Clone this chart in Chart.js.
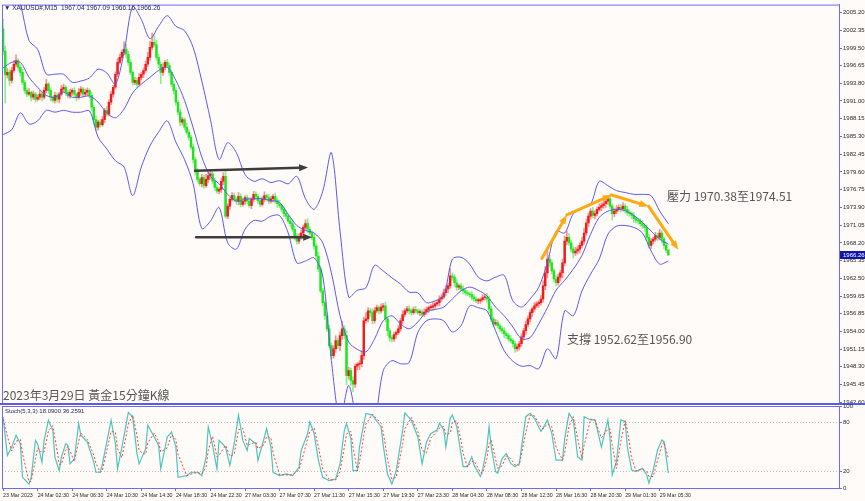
<!DOCTYPE html>
<html>
<head>
<meta charset="utf-8">
<script src="https://cdn.jsdelivr.net/npm/chart.js@4.4.1/dist/chart.umd.min.js"></script>
<style>
  body { margin:0; width:865px; height:501px; overflow:hidden; position:relative; background:#fffbf9; }
  canvas { position:absolute; left:0; top:0; }
  .t { position:absolute; white-space:nowrap; line-height:1; z-index:5; }
  #hdr { left:4px; top:4px; font:6.5px 'Liberation Sans', sans-serif; color:#26266a; }
  #stl { left:5px; top:408px; font:6px 'Liberation Sans', sans-serif; color:#26266a; }
  .cn { font-family:'Noto Sans CJK TC', sans-serif; font-size:12px; color:#555; }
</style>
</head>
<body>
<canvas id="main" width="865" height="501"></canvas>
<canvas id="stoch" width="865" height="501"></canvas>
<div class="t" id="hdr">&#9660; XAUUSD#,M15&nbsp; 1967.04 1967.09 1966.16 1966.26</div>
<div class="t" id="stl">Stoch(5,3,3) 18.0900 36.2591</div>
<div class="t cn" style="left:3px;top:389px;">2023年3月29日 黃金15分鐘K線</div>
<div class="t cn" style="left:667px;top:190px;">壓力 1970.38至1974.51</div>
<div class="t cn" style="left:567px;top:333px;">支撐 1952.62至1956.90</div>
<script>
// XAUUSD M15, 23 Mar 22:30 -> 29 Mar 06:30 (309 bars)
const firstOpen = 2002.6;
const closes = [
  1999.0,1995.2,1995.6,1994.3,1995.9,1996.9,1997.5,1996.4,1995.6,1994.0,
  1992.7,1992.1,1992.4,1991.6,1992.1,1991.3,1991.6,1992.1,1991.6,1992.7,
  1993.7,1992.7,1991.6,1991.1,1991.9,1991.3,1992.1,1992.9,1993.2,1992.4,
  1991.8,1992.4,1992.7,1992.1,1991.6,1992.4,1992.9,1992.1,1992.4,1992.7,
  1991.9,1990.0,1988.0,1986.8,1987.6,1987.2,1988.0,1989.5,1988.9,1990.8,
  1992.1,1993.2,1995.3,1997.2,1998.0,1998.8,1999.3,1998.5,1997.2,1995.6,
  1994.0,1994.3,1993.7,1994.8,1995.3,1995.9,1996.9,1998.0,1999.6,2000.4,
  2000.0,1998.0,1996.9,1995.6,1996.4,1997.2,1996.7,1995.6,1993.7,1992.7,
  1990.8,1989.2,1987.6,1988.0,1986.8,1986.0,1985.2,1983.6,1981.6,1979.6,
  1978.4,1977.7,1978.7,1977.4,1978.4,1979.0,1979.3,1978.1,1977.1,1976.5,
  1976.8,1978.1,1978.9,1972.5,1974.1,1975.2,1975.8,1975.2,1974.9,1975.7,
  1974.4,1974.9,1975.5,1974.9,1974.2,1975.2,1976.0,1975.7,1975.0,1974.4,
  1975.2,1975.8,1975.5,1974.9,1975.3,1975.7,1975.0,1974.5,1974.2,1973.6,
  1972.9,1972.5,1971.7,1971.3,1970.4,1969.3,1968.5,1969.1,1969.8,1970.7,
  1971.3,1970.4,1969.8,1969.1,1967.7,1966.1,1964.0,1960.5,1958.6,1956.5,
  1954.4,1951.7,1950.1,1951.2,1952.5,1951.7,1953.3,1954.4,1953.3,1946.9,
  1947.7,1946.1,1945.5,1948.4,1948.7,1948.8,1950.1,1955.7,1956.0,1957.3,
  1957.0,1955.7,1957.3,1957.8,1957.3,1957.9,1958.1,1956.0,1954.1,1953.0,
  1952.8,1953.5,1953.8,1954.4,1955.7,1956.7,1957.3,1957.6,1957.3,1957.0,
  1957.5,1957.3,1957.0,1957.1,1956.7,1957.1,1957.5,1957.8,1957.9,1958.1,
  1958.4,1958.6,1959.2,1959.5,1960.2,1960.8,1961.3,1962.9,1962.7,1961.8,
  1961.1,1961.3,1960.8,1960.5,1960.2,1960.0,1959.9,1959.5,1959.2,1958.9,
  1958.9,1959.1,1959.4,1959.5,1959.2,1957.6,1956.0,1955.2,1955.4,1954.9,
  1954.4,1954.1,1953.6,1953.3,1952.8,1952.5,1952.0,1951.2,1951.5,1952.0,
  1953.1,1954.1,1955.1,1956.0,1957.0,1957.6,1958.1,1958.4,1958.6,1959.2,
  1961.3,1963.4,1965.6,1965.0,1963.7,1962.4,1961.8,1962.7,1963.4,1965.0,
  1968.5,1969.1,1968.2,1967.2,1966.6,1966.9,1967.2,1967.8,1968.5,1969.8,
  1971.4,1972.5,1973.3,1972.6,1972.9,1973.6,1973.9,1974.2,1974.5,1974.9,
  1975.3,1974.1,1972.9,1973.3,1973.6,1973.9,1973.7,1974.1,1973.6,1973.1,
  1972.9,1972.6,1972.1,1971.8,1971.7,1971.3,1971.0,1970.7,1969.1,1967.8,
  1968.5,1968.8,1969.4,1969.1,1969.8,1968.8,1967.8,1967.04,1966.26
];
// wick lengths beyond the body, in tenths of a dollar
const hiWick = [
  15,8,6,4,5,6,9,3,4,5,3,4,6,2,5,3,4,6,3,5,
  8,3,4,2,5,4,3,6,5,3,4,5,3,4,2,6,4,3,5,4,
  3,5,4,6,3,4,5,3,6,4,5,3,4,6,5,4,12,8,5,4,
  3,5,4,6,3,4,5,8,10,15,12,8,5,4,6,3,5,4,3,5,
  4,3,5,4,3,6,4,3,5,4,6,3,5,4,8,6,4,3,5,4,
  3,5,6,8,4,3,5,4,3,6,4,5,3,4,6,3,5,4,3,5,
  4,6,3,5,4,3,5,4,6,3,4,5,3,4,6,5,4,6,5,4,
  6,8,4,3,5,4,6,5,4,3,5,6,4,5,8,4,6,12,5,8,
  5,4,6,4,3,5,8,6,10,5,4,6,5,4,3,5,4,6,3,4,
  3,4,3,5,4,6,3,4,5,3,4,5,3,4,3,5,4,3,4,5,
  3,4,5,4,6,5,4,12,5,4,6,3,4,5,3,4,3,5,4,3,
  4,3,5,4,6,5,4,3,5,4,3,4,5,3,4,5,3,4,5,4,
  5,4,6,5,4,3,5,4,3,6,8,10,12,6,5,4,6,5,4,6,
  8,10,6,5,4,6,5,4,6,8,6,5,4,6,5,4,6,5,8,6,
  5,8,4,5,6,4,5,6,4,5,4,3,5,4,3,4,5,3,4,5,
  4,3,5,4,6,4,3,5,1
];
const loWick = [
  6,45,5,8,4,3,4,5,6,4,5,4,3,6,4,5,3,4,6,3,
  4,5,6,3,4,5,6,3,4,5,3,4,5,4,6,3,5,4,3,6,
  4,5,8,6,5,4,3,5,4,3,4,5,3,4,3,5,4,6,5,4,
  5,4,6,3,4,5,3,4,5,4,3,5,6,18,5,4,3,5,4,6,
  5,4,6,5,4,3,5,4,6,5,4,3,5,4,3,5,6,4,5,3,
  4,5,6,3,4,5,3,4,5,6,4,3,5,4,3,5,4,6,5,4,
  3,4,5,4,3,5,4,6,3,4,5,4,3,5,4,6,5,4,3,5,
  4,5,3,4,6,5,4,3,5,6,4,3,5,4,6,5,8,6,5,15,
  6,8,12,5,6,8,5,6,4,5,6,5,4,3,5,4,6,5,8,6,
  5,4,6,3,4,5,4,3,5,4,3,4,3,5,4,3,4,5,3,4,
  4,3,5,4,3,5,6,4,5,6,5,4,3,5,4,3,4,5,4,3,
  5,4,3,4,5,6,4,5,3,4,5,4,6,5,4,3,5,6,4,5,
  4,5,6,4,5,6,4,3,5,4,5,6,8,6,5,4,5,4,6,8,
  5,6,4,5,8,4,5,6,4,5,4,6,5,4,5,4,3,5,4,6,
  5,4,10,5,4,3,5,4,6,5,4,5,6,4,5,4,5,6,5,4,
  5,4,3,5,4,6,5,4,1
];
// Bollinger bands, one reading every 4 bars
const bbUpper = [
  2011.6,2009.2,2006.5,2000.7,1999.3,1995.3,1995.3,1995.3,1994.0,1994.2,
  1994.7,1996.1,1995.5,1993.7,1998.8,2006.2,2004.1,2001.0,2003.0,2004.7,
  2003.0,2002.3,1999.6,1994.2,1988.0,1981.6,1984.3,1982.7,1979.2,1978.1,
  1978.5,1977.9,1978.2,1977.7,1978.9,1975.3,1973.6,1976.5,1982.7,1970.1,
  1959.5,1960.6,1961.0,1964.6,1963.7,1962.6,1961.6,1960.3,1960.2,1958.6,
  1958.9,1959.7,1965.6,1965.9,1964.8,1962.7,1962.1,1962.7,1963.0,1958.9,
  1957.9,1959.2,1961.1,1965.0,1970.1,1969.8,1972.9,1973.7,1974.4,1978.1,
  1977.4,1976.6,1976.3,1976.0,1976.0,1975.8,1973.3,1971.3
];
const bbMiddle = [
  1996.3,1997.2,1997.2,1994.8,1993.2,1991.9,1991.6,1992.4,1991.6,1991.6,
  1991.8,1990.8,1989.1,1988.3,1989.7,1992.3,1993.7,1994.8,1995.9,1996.4,
  1994.3,1991.1,1986.7,1982.0,1978.9,1977.7,1976.0,1974.9,1975.2,1975.3,
  1975.3,1975.0,1974.7,1972.8,1971.0,1970.2,1969.8,1968.2,1963.4,1956.5,
  1952.3,1951.1,1950.7,1952.8,1955.7,1956.5,1955.2,1954.4,1955.5,1957.1,
  1957.5,1957.9,1959.2,1960.5,1961.1,1960.6,1959.7,1957.9,1956.5,1954.7,
  1952.8,1953.0,1955.2,1957.8,1960.6,1962.2,1964.0,1966.2,1969.6,1972.3,
  1973.3,1973.6,1973.4,1972.6,1971.5,1970.1,1968.8,1968.0
];
const bbLower = [
  1985.6,1986.4,1989.1,1987.3,1987.8,1989.5,1989.2,1989.5,1989.2,1989.2,
  1989.4,1985.2,1983.3,1981.4,1980.4,1975.8,1980.4,1983.8,1986.0,1987.8,
  1984.4,1981.6,1977.7,1970.5,1971.7,1973.9,1968.2,1967.2,1970.4,1971.8,
  1971.7,1972.5,1972.6,1969.8,1965.0,1965.3,1965.8,1962.9,1949.3,1939.7,
  1945.3,1939.7,1938.1,1939.7,1947.7,1949.3,1948.8,1949.0,1953.8,1955.7,
  1956.0,1955.7,1953.9,1954.9,1958.1,1957.8,1957.3,1954.1,1950.9,1949.2,
  1948.4,1948.5,1948.0,1951.2,1949.6,1957.3,1956.5,1960.5,1963.2,1965.6,
  1969.6,1970.9,1971.0,1970.7,1969.8,1966.9,1964.8,1965.3
];
const priceTicks = [2005.20,2002.35,1999.50,1996.65,1993.80,1991.00,1988.15,1985.30,1982.45,
  1979.60,1976.75,1973.90,1971.05,1968.20,1965.35,1962.50,1959.65,1956.85,1954.00,1951.15,
  1948.30,1945.45,1942.60];
const timeBars = [0,16,32,48,64,80,96,112,128,144,160,176,192,208,224,240,256,272,288,304];
const timeLabels = ['23 Mar 2023','24 Mar 02:30','24 Mar 06:30','24 Mar 10:30','24 Mar 14:30',
  '24 Mar 18:30','24 Mar 22:30','27 Mar 03:30','27 Mar 07:30','27 Mar 11:30','27 Mar 15:30',
  '27 Mar 19:30','27 Mar 23:30','28 Mar 04:30','28 Mar 08:30','28 Mar 12:30','28 Mar 16:30',
  '28 Mar 20:30','29 Mar 01:30','29 Mar 05:30'];
// Stochastic (5,3,3): readings at turning points
const kBars = [0,2,4,6,8,9,12,13,15,16,18,19,21,23,24,26,27,29,30,31,33,35,36,39,42,43,45,46,50,52,
  53,55,58,60,62,63,66,67,70,72,73,76,78,80,81,85,87,90,92,94,95,97,99,100,103,105,107,109,111,113,
  114,117,118,121,122,124,125,128,131,134,137,138,141,142,144,146,148,151,154,156,158,159,161,162,164,165,167,168,171,175,
  176,178,180,182,185,186,189,192,194,196,198,201,202,204,205,207,208,210,212,213,215,217,218,221,222,224,225,226,228,229,
  231,233,235,237,239,242,244,246,249,250,252,254,256,259,260,262,264,266,268,269,272,274,277,280,281,282,284,286,288,289,
  291,293,296,298,299,301,303,305,306,308];
const kVals = [86.8,39.7,49.9,64.3,54,13,4.8,13,58,54,31.5,58,82.7,70.4,37.6,21.2,37.6,54,52,29.4,
  35.6,78.6,64.3,56,31.5,19.2,19.2,29.4,82.7,54,23.3,49.9,92.1,86.8,41.7,29.4,47.9,76.6,62.2,52,
  23.3,62.2,68.4,49.9,13,15.1,19.2,19.2,15.1,37.6,74.5,52,23.3,58,49.9,27.4,54,88.9,58,45.8,
  60.2,54,33.5,62.2,72.5,49.9,19.2,15.1,17.1,15.1,25.3,45.8,66.3,80.7,66.3,33.5,13,8.9,11,29.4,
  70.4,78.6,60.2,21.2,21.2,49.9,78.6,90.9,88.9,74.5,52,17.1,4.8,21.2,70.4,91.7,82.7,62.2,29.4,56,
  66.3,71,79,71,50,85,89,75,42,26,26,38,28,14,22,50,75,50,20,18,
  36,42,30,26,30,87,91,85,69,73,83,67,34,34,60,91,83,38,34,87,
  83,83,50,83,60,16,32,83,81,50,22,20,24,16,6,22,46,58.5,56.5,18.09];
const dVals = [84,63,45,57,59,42,7.5,8,35,49,43,44,70,76,61,29,29,46,51,45,
  32,57,67,59,40,30,19,22,69,68,48,37,78,89,64,45,41,55,67,57,
  44,49,65,59,41,15,17,19,17,26,46,63,38,40,52,39,41,71,73,52,
  53,56,48,53,63,61,43,16,16,16,22,31,60,69,73,50,23,10,10,20,
  50,66,69,50,21,31,64,78,90,79,68,35,11,13,54,72,86,69,46,43,
  61,69,73,75,65,67,80,82,58,42,26,32,33,19,18,36,54,58,35,24,
  27,39,36,28,28,68,89,88,74,72,78,75,50,34,43,75,87,60,36,52,
  84,83,61,72,72,53,24,57,82,71,36,21,23,20,14,14,34,52,56,36.26];
const stochTicks = [0,20,80,100];

// annotations, in bar / price units
const arrows = [
  { color:'#3d3d3d', width:2.5, from:[88.9,1979.8], to:[141.2,1980.3] },
  { color:'#3d3d3d', width:2.5, from:[89.4,1969.1], to:[143.1,1969.1] },
  { color:'#ffa812', width:3, from:[249.4,1965.7], to:[261.0,1972.7] },
  { color:'#ffa812', width:3, from:[261.0,1972.7], to:[281.8,1975.9] },
  { color:'#ffa812', width:3, from:[281.8,1975.9], to:[298.8,1974.1] },
  { color:'#ffa812', width:3, from:[298.8,1974.1], to:[312.6,1967.1] }
];

const opens = closes.map((c, i) => i ? closes[i - 1] : firstOpen);
const highs = closes.map((c, i) => Math.max(c, opens[i]) + (hiWick[i] || 0) / 10);
const lows = closes.map((c, i) => Math.min(c, opens[i]) - (loWick[i] || 0) / 10);
const isUp = closes.map((c, i) => c >= opens[i]);

const AX = '#6c6cf0';
const BAND = '#5a5aee';
const X_MIN = -0.5, X_MAX = 387;
const smallFont = { family:"'Liberation Sans', sans-serif", size:6 };
const dateFont = { family:"'Liberation Sans', sans-serif", size:5.3 };

function drawArrow(ctx, x0, y0, x1, y1, color, width) {
  const ang = Math.atan2(y1 - y0, x1 - x0), len = 9, hw = 3.5;
  const bx = x1 - Math.cos(ang) * len, by = y1 - Math.sin(ang) * len;
  ctx.strokeStyle = color; ctx.fillStyle = color; ctx.lineWidth = width; ctx.lineCap = 'round';
  ctx.beginPath(); ctx.moveTo(x0, y0); ctx.lineTo(bx, by); ctx.stroke();
  ctx.beginPath();
  ctx.moveTo(x1, y1);
  ctx.lineTo(bx - Math.sin(ang) * hw, by + Math.cos(ang) * hw);
  ctx.lineTo(bx + Math.sin(ang) * hw, by - Math.cos(ang) * hw);
  ctx.closePath(); ctx.fill();
}

const mainOverlay = {
  id: 'mainOverlay',
  afterDatasetsDraw(chart) {
    const { ctx, scales: { x, y } } = chart;
    ctx.save();
    arrows.forEach(ar => drawArrow(ctx,
      x.getPixelForValue(ar.from[0]), y.getPixelForValue(ar.from[1]),
      x.getPixelForValue(ar.to[0]), y.getPixelForValue(ar.to[1]), ar.color, ar.width));
    ctx.restore();
  },
  afterDraw(chart) {
    const { ctx, chartArea: a, scales: { y } } = chart;
    ctx.save();
    ctx.strokeStyle = AX; ctx.lineWidth = 1;
    ctx.strokeRect(a.left + 0.5, a.top + 0.5, a.right - a.left, a.bottom - a.top);
    ctx.fillStyle = '#5a5aee';
    ctx.fillRect(0, a.bottom - 1, 865, 2);
    const last = closes[closes.length - 1];
    const py = y.getPixelForValue(last);
    ctx.fillStyle = '#1414a8';
    ctx.fillRect(a.right + 1, py - 4, 25, 8);
    ctx.fillStyle = '#fff';
    ctx.font = "6px 'Liberation Sans', sans-serif";
    ctx.textBaseline = 'middle';
    ctx.fillText(last.toFixed(2), a.right + 4, py + 0.5);
    ctx.restore();
  }
};

new Chart(document.getElementById('main'), {
  type: 'bar',
  data: {
    datasets: [
      { type:'line', data: bbUpper.map((v, k) => ({ x:k * 4, y:v })), borderColor:BAND, borderWidth:1,
        pointRadius:0, tension:0.3, clip:0, order:0 },
      { type:'line', data: bbMiddle.map((v, k) => ({ x:k * 4, y:v })), borderColor:BAND, borderWidth:1,
        pointRadius:0, tension:0.3, clip:0, order:0 },
      { type:'line', data: bbLower.map((v, k) => ({ x:k * 4, y:v })), borderColor:BAND, borderWidth:1,
        pointRadius:0, tension:0.3, clip:0, order:0 },
      { data: closes.map((c, i) => ({ x:i, y:[opens[i], c] })),
        backgroundColor: isUp.map(u => u ? '#ee1c1c' : '#1ee61e'),
        barThickness:1.8, minBarLength:1, grouped:false, order:1 },
      { data: closes.map((c, i) => ({ x:i, y:[lows[i], highs[i]] })),
        backgroundColor: isUp.map(u => u ? 'rgba(240,40,40,0.5)' : 'rgba(40,220,40,0.5)'),
        barThickness:1, grouped:false, order:2 }
    ]
  },
  options: {
    responsive:false, animation:false, events:[],
    layout: { padding: { left:2, top:2, right:0, bottom:97 } },
    plugins: { legend:{ display:false }, tooltip:{ enabled:false } },
    scales: {
      x: { type:'linear', min:X_MIN, max:X_MAX, offset:false, display:false },
      y: {
        position:'right', min:1942.33, max:2006.48,
        afterFit(s) { s.width = 26; },
        afterBuildTicks(s) { s.ticks = priceTicks.map(v => ({ value:v })); },
        ticks: { callback: v => Number(v).toFixed(2), font:smallFont, color:'#2b2b2b', padding:1 },
        grid: { drawOnChartArea:false, tickLength:3, color:AX, tickColor:AX },
        border: { color:AX }
      }
    }
  },
  plugins: [mainOverlay]
});

const stochFrame = {
  id: 'stochFrame',
  afterDraw(chart) {
    const { ctx, chartArea: a } = chart;
    ctx.save();
    ctx.strokeStyle = AX; ctx.lineWidth = 1;
    ctx.strokeRect(a.left + 0.5, a.top + 0.5, a.right - a.left, a.bottom - a.top);
    ctx.restore();
  }
};

new Chart(document.getElementById('stoch'), {
  type: 'line',
  data: {
    datasets: [
      { data: kBars.map((b, k) => ({ x:b, y:dVals[k] })), borderColor:'#ff3c3c', borderWidth:1,
        borderDash:[2, 2], pointRadius:0, tension:0, clip:0 },
      { data: kBars.map((b, k) => ({ x:b, y:kVals[k] })), borderColor:'#4cc5bc', borderWidth:1.2,
        pointRadius:0, tension:0, clip:0 }
    ]
  },
  options: {
    responsive:false, animation:false, events:[],
    layout: { padding: { left:2, top:406, right:0, bottom:0 } },
    plugins: { legend:{ display:false }, tooltip:{ enabled:false } },
    scales: {
      x: {
        type:'linear', min:X_MIN, max:X_MAX, offset:false,
        afterFit(s) { s.height = 13; },
        afterBuildTicks(s) { s.ticks = timeBars.map(v => ({ value:v })); },
        ticks: { callback: v => timeLabels[timeBars.indexOf(v)], align:'start', autoSkip:false,
          maxRotation:0, minRotation:0, font:dateFont, color:'#2b2b2b', padding:1 },
        grid: { drawOnChartArea:false, tickLength:3, color:AX, tickColor:AX },
        border: { color:AX }
      },
      y: {
        position:'right', min:0, max:100,
        afterFit(s) { s.width = 26; },
        afterBuildTicks(s) { s.ticks = stochTicks.map(v => ({ value:v })); },
        ticks: { font:smallFont, color:'#2b2b2b', padding:1 },
        grid: {
          color: c => (c.tick && (c.tick.value === 20 || c.tick.value === 80)) ? '#bdbdbd' : 'rgba(0,0,0,0)',
          tickColor:AX, tickLength:3
        },
        border: { color:AX, dash:[1, 2] }
      }
    }
  },
  plugins: [stochFrame]
});
</script>
</body>
</html>
